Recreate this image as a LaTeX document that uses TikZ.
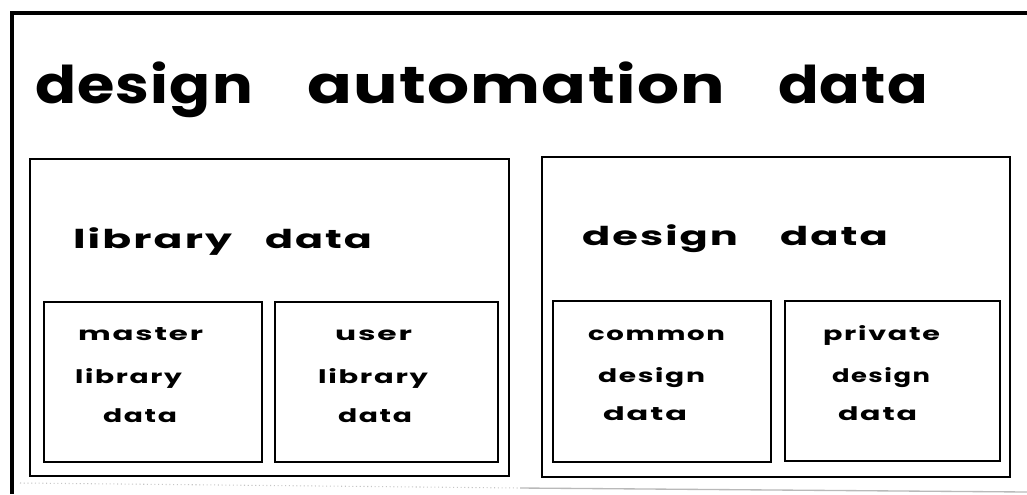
\documentclass[tikz,border=0pt]{standalone}
\usepackage{fontspec}
\usepackage{graphicx}
\newfontfamily\popfont{Poppins}
\newdimen\px \px=0.75pt
\newcommand\fw[2]{\resizebox{#1\px}{\height}{#2}}
\tikzset{
  frame/.style={line width=2.3pt},
  bigbox/.style={draw, line width=1.8pt, inner sep=0, outer sep=0},
  smallbox/.style={draw, line width=1.5pt, inner sep=0, outer sep=0, minimum width=218\px, minimum height=160\px},
  txt/.style={anchor=base west, inner sep=0, outer sep=0},
  ttl/.style={txt, font=\popfont\bfseries\fontsize{39}{41}\selectfont\addfontfeature{LetterSpace=2}},
  sub/.style={txt, font=\popfont\bfseries\fontsize{19.5}{21}\selectfont\addfontfeature{LetterSpace=5}},
  sml/.style={txt, font=\popfont\bfseries\fontsize{14}{15}\selectfont\addfontfeature{LetterSpace=6}},
}
\begin{document}
\begin{tikzpicture}[x=0.75pt,y=-0.75pt]
\useasboundingbox (0,0) rectangle (1027,494);
% outer frame
\coordinate (tr) at (1027,13);
\coordinate (tl) at (12,13);
\coordinate (bl) at (12,494);
\draw[frame] (tr) -- (tl) -- (bl);
\coordinate (g1) at (20,483);
\coordinate (g2) at (520,488);
\coordinate (g3) at (1027,492);
\draw[gray!45, line width=0.8pt, dotted] (g1) -- (g2);
\draw[gray!55, line width=1pt] (g2) -- (g3);
% title
\node[ttl] (title) at (35,103) {\fw{218}{design}\hspace{54\px}\fw{418}{automation}\hspace{53\px}\fw{150}{data}};
% big boxes
\node[bigbox, minimum width=479\px, minimum height=317\px] (lib) at (269.5,317.5) {};
\node[bigbox, minimum width=468\px, minimum height=320\px] (des) at (776,317) {};
\node[sub] (libt) at (73,248) {\fw{159}{library}\hspace{33\px}\fw{107}{data}};
\node[sub] (dest) at (582,245) {\fw{156}{design}\hspace{42\px}\fw{108}{data}};
% small boxes
\node[smallbox] (mas) at (153,382) {};
\node[smallbox, minimum width=223\px] (usr) at (386.5,382) {};
\node[smallbox, minimum height=161\px] (com) at (662,381.5) {};
\node[smallbox, minimum width=215\px] (pri) at (892.5,381) {};
% small texts
\node[sml] (m1) at (78,340) {\fw{125}{master}};
\node[sml] (m2) at (75,383) {\fw{107}{library}};
\node[sml] (m3) at (103,422) {\fw{74}{data}};
\node[sml] (u1) at (335,340) {\fw{77}{user}};
\node[sml] (u2) at (318,383) {\fw{110}{library}};
\node[sml] (u3) at (338,422) {\fw{74}{data}};
\node[sml] (c1) at (588,340) {\fw{137}{common}};
\node[sml] (c2) at (598,382) {\fw{107}{design}};
\node[sml] (c3) at (603,420) {\fw{84}{data}};
\node[sml] (p1) at (823,340) {\fw{117}{private}};
\node[sml] (p2) at (832,382) {\fw{98}{design}};
\node[sml] (p3) at (838,420) {\fw{79}{data}};
\end{tikzpicture}
\end{document}
